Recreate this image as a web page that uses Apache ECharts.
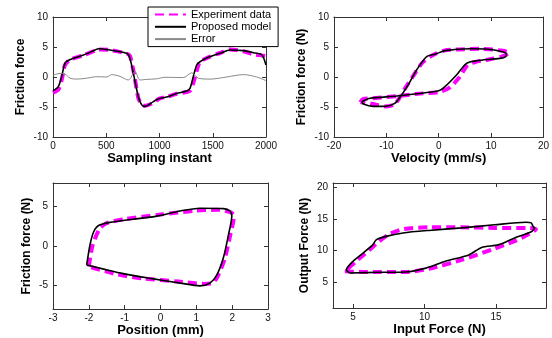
<!DOCTYPE html>
<html>
<head>
<meta charset="utf-8">
<script src="https://cdn.jsdelivr.net/npm/echarts@6/dist/echarts.min.js"></script>
<style>html,body{margin:0;padding:0;background:#fff}#c{width:552px;height:338px}</style>
</head>
<body>
<div id="c"></div>
<script>
// Panel 1: time series
const sampleMain = [0, 50, 81, 113, 160, 285, 394, 426, 535, 692, 723, 761, 801, 833, 864, 942, 998, 1068, 1161, 1255, 1286, 1317, 1349, 1380, 1474, 1568, 1662, 1787, 1881, 1960, 2000];
const expData = [-2.6, -2.1, -0.5, 2.0, 2.9, 3.6, 4.4, 4.6, 4.5, 3.9, 3.5, 0.5, -3.5, -4.6, -4.8, -4.3, -3.6, -3.3, -2.8, -2.5, -2.3, -1.0, 1.0, 2.5, 3.4, 4.0, 4.6, 4.3, 3.8, 3.6, 3.5];
const modelData = [-2.3, -1.6, 0.05, 2.3, 2.9, 3.65, 4.5, 4.72, 4.5, 3.95, 3.1, 0.05, -3.3, -4.65, -4.9, -4.1, -3.6, -3.35, -2.75, -2.35, -1.9, 0.05, 2.0, 2.55, 3.4, 3.95, 4.5, 4.4, 4.05, 3.7, 2.0];
const sampleErr = [0, 66, 113, 160, 222, 316, 410, 504, 551, 629, 707, 770, 817, 880, 974, 1050, 1224, 1302, 1365, 1474, 1631, 1787, 1912, 2000];
const errData = [0.3, 0.6, 0.5, -0.2, -0.35, -0.2, 0.05, 0, 0.4, 0.1, -0.5, 0.9, -0.5, -0.4, -0.3, -0.05, -0.1, 0.7, -0.2, -0.35, 0, 0.4, 0, -0.6];

// Panel 2: velocity loop
const velModel = [-14.7, -13.1, -8.0, 0.0, 1.2, 3.4, 5.3, 7.2, 11.7, 12.8, 12.9, 11.7, 9.1, 6.0, 1.2, -0.7, -2.3, -4.2, -5.5, -7.1, -8.4, -10.3, -12.5, -14.4, -14.7];
const fricModelV = [-4.1, -3.55, -3.17, -2.28, -1.6, 0.33, 2.28, 2.7, 3.1, 3.4, 3.9, 4.3, 4.67, 4.7, 4.4, 3.8, 3.4, 1.2, -0.8, -3.0, -4.4, -4.9, -4.9, -4.5, -4.1];
const velExp = [-15.0, -14.5, -12, -8, -4, 0, 2, 4, 5.5, 7, 10, 12, 13.5, 12, 8, 4, 1, -1, -3, -5, -6.5, -7.5, -8.5, -10, -12, -14.5, -15.0];
const fricExpV = [-4.2, -3.7, -3.5, -3.2, -2.8, -2.5, -1.8, 0, 2.0, 2.5, 3.0, 3.4, 4.0, 4.4, 4.7, 4.6, 4.4, 3.7, 2.5, 0, -2.0, -3.5, -4.6, -4.9, -4.6, -4.2, -4.2];

// Panel 3: position loop
const posModel = [-2.06, -1.97, -1.87, -1.73, -1.41, -0.76, -0.1, 0.55, 1.1, 1.76, 1.94, 1.99, 1.9, 1.76, 1.57, 1.38, 1.1, 0.55, -0.29, -1.04, -2.06];
const fricModelP = [-2.4, 0.1, 1.75, 2.6, 3.0, 3.4, 3.8, 4.45, 4.8, 4.75, 4.45, 3.8, 1.5, -1.4, -3.7, -4.7, -5.05, -4.7, -4.1, -3.5, -2.4];
const posExp = [-2.0, -1.9, -1.7, -1.5, -1.0, 0.0, 1.0, 1.6, 1.95, 2.05, 1.95, 1.8, 1.6, 1.45, 1.2, 0.5, -0.5, -1.2, -2.0];
const fricExpP = [-2.6, 0.0, 2.2, 2.9, 3.4, 4.0, 4.5, 4.6, 4.3, 3.8, 1.5, -1.5, -3.8, -4.7, -4.8, -4.5, -4.1, -3.6, -2.6];

// Panel 4: input/output force loop
const inModel = [4.77, 6.85, 8.7, 10.1, 11.47, 13.1, 14.0, 15.16, 16.3, 17.47, 17.7, 17.6, 17.47, 17.1, 14.9, 12.6, 10.3, 8.5, 7.3, 6.62, 6.38, 5.7, 5.0, 4.54, 4.77];
const outModel = [6.43, 6.53, 6.58, 7.2, 8.3, 9.3, 10.5, 10.9, 12.0, 13.0, 13.6, 13.8, 14.4, 14.5, 14.1, 13.6, 13.2, 12.8, 12.25, 11.7, 10.9, 9.6, 8.3, 6.95, 6.43];
const inExp = [4.43, 5.7, 8.7, 10.3, 12.6, 14.9, 16.3, 17.2, 17.8, 17.2, 14.9, 12.6, 10.3, 8.5, 7.54, 6.85, 6.15, 5.23, 4.43];
const outExp = [6.69, 6.6, 6.58, 7.1, 8.5, 10.3, 11.5, 12.5, 13.4, 13.6, 13.6, 13.7, 13.7, 13.4, 12.6, 11.5, 10.1, 8.3, 6.69];

const legendNames = ['Experiment data', 'Proposed model', 'Error'];

const zip = (a, b) => a.map((v, i) => [v, b[i]]);
const FONT = 'Liberation Sans, Arial, sans-serif';

const grids = [
  { left: 53, top: 17, width: 213, height: 120 },
  { left: 334, top: 17, width: 210, height: 120 },
  { left: 53, top: 183, width: 215, height: 129 },
  { left: 333, top: 183, width: 213, height: 125 }
];

const axisCfg = [
  { x: { min: 0, max: 2000, interval: 500, name: 'Sampling instant' }, y: { min: -10, max: 10, interval: 5, name: 'Friction force', gap: 26 } },
  { x: { min: -20, max: 20, interval: 10, name: 'Velocity (mm/s)' }, y: { min: -10, max: 10, interval: 5, name: 'Friction force (N)', gap: 26 } },
  { x: { min: -3, max: 3, interval: 1, name: 'Position (mm)' }, y: { min: -8, max: 8, ticks: [-5, 0, 5], name: 'Friction force (N)', gap: 20 } },
  { x: { min: 3.6, max: 18.5, ticks: [5, 10, 15], name: 'Input Force (N)' }, y: { min: 0.85, max: 20.75, ticks: [5, 10, 15, 20], name: 'Output Force (N)', gap: 22 } }
];

const xAxes = [], yAxes = [];
axisCfg.forEach((c, gi) => {
  const mk = (a, isX, mirror) => {
    const o = {
      type: 'value', gridIndex: gi, min: a.min, max: a.max,
      position: isX ? (mirror ? 'top' : 'bottom') : (mirror ? 'right' : 'left'),
      splitLine: { show: false },
      axisLine: { show: true, onZero: false, lineStyle: { color: '#333', width: 1 } },
      axisTick: { show: true, inside: true, length: 4, lineStyle: { color: '#333' } },
      axisLabel: { show: !mirror, color: '#111', fontSize: 10, fontFamily: FONT, margin: isX ? 4 : 5, showMinLabel: true, showMaxLabel: true, formatter: v => String(v) }
    };
    if (a.interval) o.interval = a.interval;
    if (a.ticks) {
      o.axisTick.customValues = a.ticks;
      o.axisLabel.customValues = a.ticks;
    }
    if (!mirror) {
      o.name = a.name;
      o.nameLocation = 'middle';
      o.nameGap = isX ? 13 : a.gap;
      o.nameTextStyle = { fontSize: isX ? 13 : 12, fontWeight: 'bold', fontFamily: FONT, color: '#000', verticalAlign: isX ? 'top' : 'bottom' };
    }
    return o;
  };
  xAxes.push(mk(c.x, true, false));
  xAxes.push(mk(c.x, true, true));
  yAxes.push(mk(c.y, false, false));
  yAxes.push(mk(c.y, false, true));
});

const expStyle = { color: '#ff00ff', width: 4, type: [9, 5] };
const modelStyle = { color: '#000', width: 1.6 };
const errStyle = { color: '#8a8a8a', width: 1 };

const series = [];
const addLoop = (gi, exp, model) => {
  series.push({ name: legendNames[0], type: 'line', xAxisIndex: gi * 2, yAxisIndex: gi * 2, data: exp, symbol: 'none', smooth: 0.25, lineStyle: expStyle, color: '#ff00ff', z: 2 });
  series.push({ name: legendNames[1], type: 'line', xAxisIndex: gi * 2, yAxisIndex: gi * 2, data: model, symbol: 'none', smooth: 0.25, lineStyle: modelStyle, color: '#000', z: 3 });
};
addLoop(0, zip(sampleMain, expData), zip(sampleMain, modelData));
series.push({ name: legendNames[2], type: 'line', xAxisIndex: 0, yAxisIndex: 0, data: zip(sampleErr, errData), symbol: 'none', smooth: 0.3, lineStyle: errStyle, color: '#8a8a8a', z: 4 });
addLoop(1, zip(velExp, fricExpV), zip(velModel, fricModelV));
addLoop(2, zip(posExp, fricExpP), zip(posModel, fricModelP));
addLoop(3, zip(inExp, outExp), zip(inModel, outModel));

const chart = echarts.init(document.getElementById('c'), null, { renderer: 'canvas' });
chart.setOption({
  animation: false,
  backgroundColor: '#fff',
  grid: grids,
  xAxis: xAxes,
  yAxis: yAxes,
  legend: {
    data: legendNames,
    orient: 'vertical',
    left: 148, top: 7,
    padding: [2, 7, 2, 6],
    itemWidth: 31, itemHeight: 12, itemGap: 1.3,
    backgroundColor: '#fff',
    borderColor: '#000', borderWidth: 1,
    itemStyle: { opacity: 0 },
    textStyle: { fontSize: 11, fontFamily: FONT, color: '#000' },
    z: 10
  },
  series: series
});
</script>
</body>
</html>
